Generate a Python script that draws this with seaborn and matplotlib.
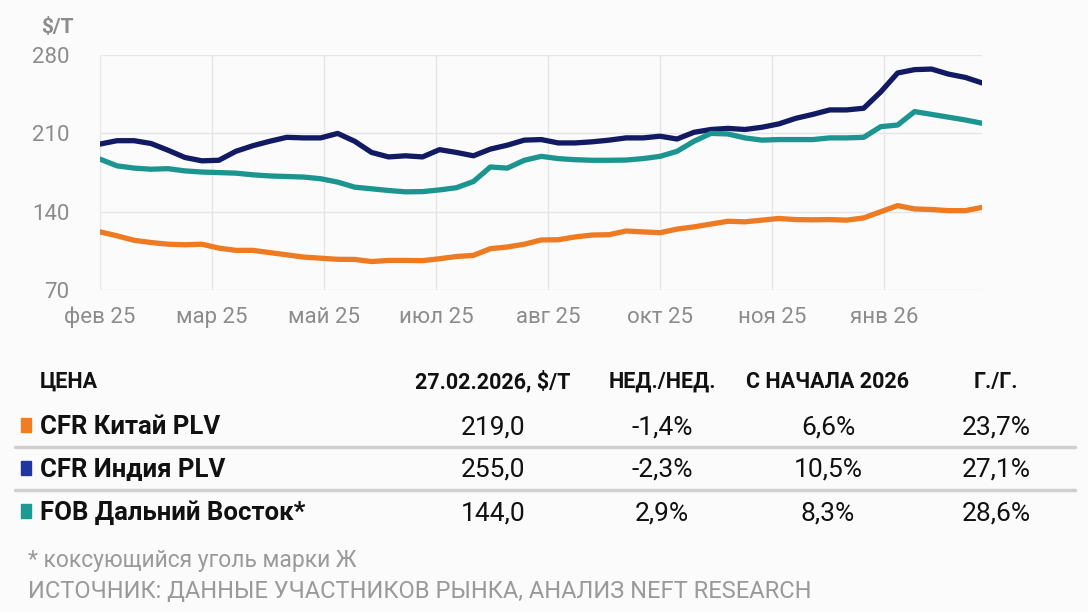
"""
Coking coal prices chart + summary table
"""
import pandas as pd
import numpy as np
import seaborn as sns
import matplotlib.pyplot as plt
from matplotlib.lines import Line2D
from matplotlib.patches import Rectangle

# weekly prices, $/t (late Feb 2025 .. late Feb 2026)
india_cfr = [200.5, 203.5, 203.5, 201, 195, 188.5, 185.5, 186, 194, 199,
             203, 206.5, 206, 206, 210, 203, 193, 189, 190, 189,
             195.5, 193, 190, 196, 199.5, 204, 204.5, 201.5, 201.5, 202.5,
             204, 206, 206, 207.5, 205, 211, 213.5, 214.5, 213.5, 215.5,
             218.5, 223.5, 227, 231, 231, 232.5, 247, 264, 267, 267.5,
             263, 260, 255]
teal_series = [187, 181, 179, 178, 178.5, 176.5, 175.5, 175, 174.5, 173,
               172, 171.5, 171, 169.5, 166.5, 162, 160.5, 159, 157.8, 158,
               159.5, 161.5, 167, 180, 179, 186, 189.5, 187.5, 186.5, 186,
               186, 186.2, 187.5, 189.5, 194, 203, 210, 209.5, 206, 204,
               204.5, 204.5, 204.5, 206, 206, 206.5, 216, 217.5, 229.5, 227,
               224.5, 222, 219]
orange_series = [122, 118.5, 114.5, 112.5, 111, 110.5, 111, 107.5, 105.5, 105.5,
                 103.5, 101.5, 99.5, 98.5, 97.5, 97.4, 95.5, 96.5, 96.5, 96.3,
                 98, 100, 101, 107, 108.5, 111, 114.8, 115, 117.5, 119.2,
                 119.5, 122.8, 122, 121.3, 124.5, 126.5, 129, 131.5, 131, 132.5,
                 134, 133, 132.8, 133, 132.5, 134.5, 140, 145.5, 142.5, 142,
                 141, 141, 144]

month_labels = ["фев 25", "мар 25", "май 25", "июл 25", "авг 25", "окт 25", "ноя 25", "янв 26"]
y_ticks = [70, 140, 210, 280]

table_header = ["ЦЕНА", "27.02.2026, $/T", "НЕД./НЕД.", "С НАЧАЛА 2026", "Г./Г."]
row_names = ["CFR Китай PLV", "CFR Индия PLV", "FOB Дальний Восток*"]
price_now = ["219,0", "255,0", "144,0"]
wow = ["-1,4%", "-2,3%", "2,9%"]
ytd = ["6,6%", "10,5%", "8,3%"]
yoy = ["23,7%", "27,1%", "28,6%"]

line_colors = {"orange": "#ee7a22", "navy": "#111a62", "teal": "#1c9490"}
square_colors = ["#f47c20", "#1f36a0", "#1e9a94"]

bg = "#fbfbfb"
grey = "#8c8c8c"

sns.set_theme(style="white")
plt.rcParams['font.family'] = ['Roboto', 'DejaVu Sans']

fig = plt.figure(figsize=(10.88, 6.12), dpi=100, facecolor=bg)
ax = fig.add_axes([0.092, 0.526, 0.811, 0.384], facecolor=bg)

weeks = np.arange(len(india_cfr))
df = pd.DataFrame({
    "week": np.concatenate([weeks, weeks, weeks]),
    "price": india_cfr + teal_series + orange_series,
    "series": ["navy"] * len(weeks) + ["teal"] * len(weeks) + ["orange"] * len(weeks),
})
sns.lineplot(data=df, x="week", y="price", hue="series", palette=line_colors,
             linewidth=3.8, legend=False, ax=ax, solid_capstyle="round",
             solid_joinstyle="round")

ax.set_xlim(0, 52)
ax.set_ylim(70, 280)
tick_step = 52 / 7.88
ax.set_xticks([i * tick_step for i in range(len(month_labels))])
ax.set_xticklabels(month_labels)
ax.set_yticks(y_ticks)
ax.grid(True, color="#e6e6e6", linewidth=1)
for s in ax.spines.values():
    s.set_visible(False)
ax.tick_params(axis="both", length=0, labelcolor=grey, labelsize=16, pad=12)
ax.tick_params(axis="y", pad=22)
ax.set_xlabel("")
ax.set_ylabel("")
fig.text(0.038, 0.97, "$/T", color=grey, fontsize=15, fontweight="bold", va="top")

# table below the chart
col_x = [40, 493, 662, 828, 996]
def fy(y):
    return 1 - y / 612

for i, h in enumerate(table_header):
    fig.text(col_x[i] / 1088, fy(382), h, fontsize=15.5, fontweight="bold",
             color="#111111", ha="left" if i == 0 else "center", va="center")

row_y = [427, 470, 513]
for r, name in enumerate(row_names):
    y = fy(row_y[r])
    fig.patches.append(Rectangle((21 / 1088, y - 0.008), 10 / 1088, 0.022,
                                 transform=fig.transFigure, color=square_colors[r]))
    fig.text(col_x[0] / 1088, y, name, fontsize=18.5, fontweight="bold",
             color="#111111", ha="left", va="center")
    for c, vals in enumerate([price_now, wow, ytd, yoy]):
        fig.text(col_x[c + 1] / 1088, y, vals[r], fontsize=19, color="#111111",
                 ha="center", va="center")

for ysep in [447, 490]:
    fig.lines.append(Line2D([15 / 1088, 1075 / 1088], [fy(ysep), fy(ysep)],
                            transform=fig.transFigure, color="#cfcfcf", linewidth=2.5))

fig.text(28 / 1088, fy(560), "* коксующийся уголь марки Ж", fontsize=16.5,
         color="#9a9a9a", va="center")
fig.text(28 / 1088, fy(592), "ИСТОЧНИК: ДАННЫЕ УЧАСТНИКОВ РЫНКА, АНАЛИЗ NEFT RESEARCH",
         fontsize=17, color="#9a9a9a", va="center")

fig.savefig("out.png", dpi=100, facecolor=bg)
